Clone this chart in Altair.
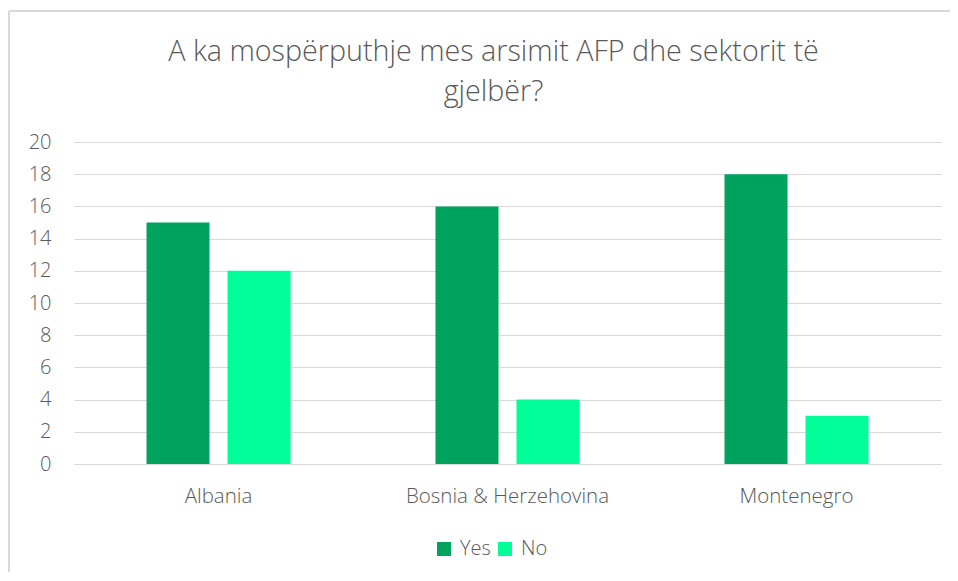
import altair as alt
import pandas as pd

countries = ["Albania", "Bosnia & Herzehovina", "Montenegro"]
series = ["Yes", "No"]
yes_vals = [15, 16, 18]
no_vals = [12, 4, 3]
colors = ["#00A35E", "#00FF99"]

rows = []
for c, y, n in zip(countries, yes_vals, no_vals):
    rows.append({"Country": c, "Answer": "Yes", "Value": y})
    rows.append({"Country": c, "Answer": "No", "Value": n})
df = pd.DataFrame(rows)

FONT = "Open Sans"
GRAY = "#595959"

bars = alt.Chart(df).mark_bar().encode(
    x=alt.X("Country:N", sort=countries, title=None,
            scale=alt.Scale(paddingInner=0, paddingOuter=0),
            axis=alt.Axis(labelAngle=0, ticks=False, domain=True, domainColor="#D9D9D9",
                          labelPadding=22, labelFontSize=20.5, labelColor=GRAY, labelFont=FONT,
                          labelFontWeight=300, labelLimit=0)),
    xOffset=alt.XOffset("Answer:N", sort=series,
                        scale=alt.Scale(paddingInner=0.222, paddingOuter=0.895)),
    y=alt.Y("Value:Q", title=None,
            scale=alt.Scale(domain=[0, 20]),
            axis=alt.Axis(values=list(range(0, 21, 2)), ticks=False, domain=False,
                          gridColor="#D9D9D9", gridWidth=1, labelPadding=23,
                          labelFontSize=20, labelColor=GRAY, labelFont=FONT,
                          labelFontWeight=300)),
    color=alt.Color("Answer:N", sort=series,
                    scale=alt.Scale(domain=series, range=colors),
                    legend=alt.Legend(title=None, orient="none", direction="horizontal",
                                      legendX=360, legendY=397, symbolType="square",
                                      symbolSize=196, labelFontSize=20, labelColor=GRAY,
                                      labelFont=FONT, labelFontWeight=300, labelOffset=6,
                                      columnPadding=4, symbolStrokeWidth=0)),
)

border_left = alt.Chart(df).mark_rule(color="#D9D9D9", strokeWidth=2).encode(
    x=alt.value(-65), y=alt.value(-131), y2=alt.value(430))
border_top = alt.Chart(df).mark_rule(color="#D9D9D9", strokeWidth=2).encode(
    x=alt.value(-65), x2=alt.value(880), y=alt.value(-131))

chart = alt.layer(bars, border_left, border_top).properties(
    width=867, height=322,
    autosize=alt.AutoSizeParams(type="none"),
    padding={"left": 66, "top": 134, "right": 9, "bottom": 109},
    background="white",
    title=alt.Title(["A ka mospërputhje mes arsimit AFP dhe sektorit të", "gjelbër?"],
                    font=FONT, fontSize=28.7, fontWeight=300, color=GRAY,
                    lineHeight=40, anchor="middle", dx=-14, offset=-97),
).configure_view(stroke="transparent", strokeWidth=0)

chart.save("out.html", embed_options={"renderer": "svg", "actions": False})
